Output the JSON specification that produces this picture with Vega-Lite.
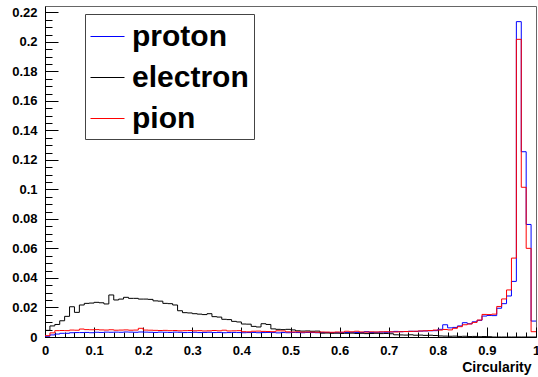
{
  "$schema": "https://vega.github.io/schema/vega-lite/v6.json",
  "width": 491,
  "height": 331,
  "autosize": {"type": "none"},
  "padding": {"left": 45, "top": 6, "right": 2, "bottom": 40},
  "background": "white",
  "config": {
    "view": {"stroke": "#666666", "strokeWidth": 1},
    "font": "Liberation Sans",
    "axis": {"grid": false}
  },
  "data": {
    "values": [
      {"b": 0.00, "proton": 0.0005, "electron": 0.0045, "pion": 0.0009},
      {"b": 0.01, "proton": 0.0014, "electron": 0.0075, "pion": 0.0028},
      {"b": 0.02, "proton": 0.0020, "electron": 0.0085, "pion": 0.0043},
      {"b": 0.03, "proton": 0.0025, "electron": 0.0110, "pion": 0.0044},
      {"b": 0.04, "proton": 0.0025, "electron": 0.0140, "pion": 0.0043},
      {"b": 0.05, "proton": 0.0029, "electron": 0.0205, "pion": 0.0047},
      {"b": 0.06, "proton": 0.0030, "electron": 0.0167, "pion": 0.0046},
      {"b": 0.07, "proton": 0.0030, "electron": 0.0217, "pion": 0.0054},
      {"b": 0.08, "proton": 0.0031, "electron": 0.0228, "pion": 0.0050},
      {"b": 0.09, "proton": 0.0029, "electron": 0.0230, "pion": 0.0049},
      {"b": 0.10, "proton": 0.0032, "electron": 0.0235, "pion": 0.0050},
      {"b": 0.11, "proton": 0.0031, "electron": 0.0232, "pion": 0.0048},
      {"b": 0.12, "proton": 0.0033, "electron": 0.0224, "pion": 0.0047},
      {"b": 0.13, "proton": 0.0032, "electron": 0.0285, "pion": 0.0049},
      {"b": 0.14, "proton": 0.0033, "electron": 0.0251, "pion": 0.0046},
      {"b": 0.15, "proton": 0.0032, "electron": 0.0257, "pion": 0.0047},
      {"b": 0.16, "proton": 0.0034, "electron": 0.0269, "pion": 0.0048},
      {"b": 0.17, "proton": 0.0033, "electron": 0.0262, "pion": 0.0046},
      {"b": 0.18, "proton": 0.0032, "electron": 0.0262, "pion": 0.0047},
      {"b": 0.19, "proton": 0.0034, "electron": 0.0257, "pion": 0.0059},
      {"b": 0.20, "proton": 0.0033, "electron": 0.0257, "pion": 0.0047},
      {"b": 0.21, "proton": 0.0032, "electron": 0.0255, "pion": 0.0046},
      {"b": 0.22, "proton": 0.0031, "electron": 0.0245, "pion": 0.0045},
      {"b": 0.23, "proton": 0.0033, "electron": 0.0243, "pion": 0.0044},
      {"b": 0.24, "proton": 0.0032, "electron": 0.0228, "pion": 0.0045},
      {"b": 0.25, "proton": 0.0031, "electron": 0.0226, "pion": 0.0043},
      {"b": 0.26, "proton": 0.0033, "electron": 0.0217, "pion": 0.0044},
      {"b": 0.27, "proton": 0.0032, "electron": 0.0178, "pion": 0.0042},
      {"b": 0.28, "proton": 0.0030, "electron": 0.0165, "pion": 0.0043},
      {"b": 0.29, "proton": 0.0031, "electron": 0.0163, "pion": 0.0044},
      {"b": 0.30, "proton": 0.0032, "electron": 0.0158, "pion": 0.0042},
      {"b": 0.31, "proton": 0.0030, "electron": 0.0155, "pion": 0.0043},
      {"b": 0.32, "proton": 0.0031, "electron": 0.0152, "pion": 0.0041},
      {"b": 0.33, "proton": 0.0032, "electron": 0.0158, "pion": 0.0042},
      {"b": 0.34, "proton": 0.0030, "electron": 0.0138, "pion": 0.0044},
      {"b": 0.35, "proton": 0.0031, "electron": 0.0135, "pion": 0.0042},
      {"b": 0.36, "proton": 0.0029, "electron": 0.0120, "pion": 0.0046},
      {"b": 0.37, "proton": 0.0030, "electron": 0.0118, "pion": 0.0041},
      {"b": 0.38, "proton": 0.0031, "electron": 0.0106, "pion": 0.0042},
      {"b": 0.39, "proton": 0.0030, "electron": 0.0102, "pion": 0.0043},
      {"b": 0.40, "proton": 0.0029, "electron": 0.0088, "pion": 0.0036},
      {"b": 0.41, "proton": 0.0030, "electron": 0.0087, "pion": 0.0035},
      {"b": 0.42, "proton": 0.0031, "electron": 0.0072, "pion": 0.0039},
      {"b": 0.43, "proton": 0.0029, "electron": 0.0068, "pion": 0.0040},
      {"b": 0.44, "proton": 0.0030, "electron": 0.0090, "pion": 0.0038},
      {"b": 0.45, "proton": 0.0031, "electron": 0.0085, "pion": 0.0037},
      {"b": 0.46, "proton": 0.0030, "electron": 0.0055, "pion": 0.0036},
      {"b": 0.47, "proton": 0.0028, "electron": 0.0052, "pion": 0.0042},
      {"b": 0.48, "proton": 0.0030, "electron": 0.0050, "pion": 0.0041},
      {"b": 0.49, "proton": 0.0029, "electron": 0.0052, "pion": 0.0035},
      {"b": 0.50, "proton": 0.0031, "electron": 0.0048, "pion": 0.0034},
      {"b": 0.51, "proton": 0.0030, "electron": 0.0042, "pion": 0.0035},
      {"b": 0.52, "proton": 0.0029, "electron": 0.0040, "pion": 0.0033},
      {"b": 0.53, "proton": 0.0031, "electron": 0.0041, "pion": 0.0034},
      {"b": 0.54, "proton": 0.0030, "electron": 0.0039, "pion": 0.0033},
      {"b": 0.55, "proton": 0.0029, "electron": 0.0040, "pion": 0.0032},
      {"b": 0.56, "proton": 0.0030, "electron": 0.0026, "pion": 0.0034},
      {"b": 0.57, "proton": 0.0031, "electron": 0.0027, "pion": 0.0033},
      {"b": 0.58, "proton": 0.0030, "electron": 0.0025, "pion": 0.0032},
      {"b": 0.59, "proton": 0.0029, "electron": 0.0026, "pion": 0.0034},
      {"b": 0.60, "proton": 0.0031, "electron": 0.0024, "pion": 0.0033},
      {"b": 0.61, "proton": 0.0030, "electron": 0.0025, "pion": 0.0039},
      {"b": 0.62, "proton": 0.0032, "electron": 0.0026, "pion": 0.0035},
      {"b": 0.63, "proton": 0.0030, "electron": 0.0024, "pion": 0.0039},
      {"b": 0.64, "proton": 0.0031, "electron": 0.0025, "pion": 0.0034},
      {"b": 0.65, "proton": 0.0036, "electron": 0.0023, "pion": 0.0033},
      {"b": 0.66, "proton": 0.0031, "electron": 0.0024, "pion": 0.0035},
      {"b": 0.67, "proton": 0.0032, "electron": 0.0025, "pion": 0.0034},
      {"b": 0.68, "proton": 0.0033, "electron": 0.0023, "pion": 0.0035},
      {"b": 0.69, "proton": 0.0032, "electron": 0.0024, "pion": 0.0036},
      {"b": 0.70, "proton": 0.0034, "electron": 0.0022, "pion": 0.0035},
      {"b": 0.71, "proton": 0.0038, "electron": 0.0015, "pion": 0.0034},
      {"b": 0.72, "proton": 0.0036, "electron": 0.0014, "pion": 0.0036},
      {"b": 0.73, "proton": 0.0037, "electron": 0.0013, "pion": 0.0037},
      {"b": 0.74, "proton": 0.0039, "electron": 0.0015, "pion": 0.0038},
      {"b": 0.75, "proton": 0.0038, "electron": 0.0012, "pion": 0.0039},
      {"b": 0.76, "proton": 0.0040, "electron": 0.0013, "pion": 0.0041},
      {"b": 0.77, "proton": 0.0041, "electron": 0.0011, "pion": 0.0042},
      {"b": 0.78, "proton": 0.0042, "electron": 0.0012, "pion": 0.0044},
      {"b": 0.79, "proton": 0.0043, "electron": 0.0010, "pion": 0.0047},
      {"b": 0.80, "proton": 0.0052, "electron": 0.0007, "pion": 0.0047},
      {"b": 0.81, "proton": 0.0083, "electron": 0.0006, "pion": 0.0051},
      {"b": 0.82, "proton": 0.0062, "electron": 0.0005, "pion": 0.0048},
      {"b": 0.83, "proton": 0.0065, "electron": 0.0006, "pion": 0.0059},
      {"b": 0.84, "proton": 0.0075, "electron": 0.0004, "pion": 0.0070},
      {"b": 0.85, "proton": 0.0097, "electron": 0.0005, "pion": 0.0083},
      {"b": 0.86, "proton": 0.0090, "electron": 0.0003, "pion": 0.0088},
      {"b": 0.87, "proton": 0.0103, "electron": 0.0004, "pion": 0.0099},
      {"b": 0.88, "proton": 0.0113, "electron": 0.0002, "pion": 0.0115},
      {"b": 0.89, "proton": 0.0142, "electron": 0.0003, "pion": 0.0153},
      {"b": 0.90, "proton": 0.0146, "electron": 0.0002, "pion": 0.0152},
      {"b": 0.91, "proton": 0.0145, "electron": 0.0000, "pion": 0.0155},
      {"b": 0.92, "proton": 0.0195, "electron": 0.0000, "pion": 0.0207},
      {"b": 0.93, "proton": 0.0226, "electron": 0.0000, "pion": 0.0258},
      {"b": 0.94, "proton": 0.0278, "electron": 0.0000, "pion": 0.0319},
      {"b": 0.95, "proton": 0.0377, "electron": 0.0000, "pion": 0.0535},
      {"b": 0.96, "proton": 0.2138, "electron": 0.0000, "pion": 0.2018},
      {"b": 0.97, "proton": 0.1256, "electron": 0.0000, "pion": 0.1015},
      {"b": 0.98, "proton": 0.0763, "electron": 0.0000, "pion": 0.0601},
      {"b": 0.99, "proton": 0.0108, "electron": 0.0000, "pion": 0.0036},
      {"b": 1.00, "proton": 0.0108, "electron": 0.0000, "pion": 0.0036}
    ]
  },
  "transform": [
    {"fold": ["proton", "electron", "pion"], "as": ["particle", "value"]}
  ],
  "layer": [
    {
      "mark": {"type": "line", "interpolate": "step-after", "strokeWidth": 1},
      "encoding": {
        "x": {
          "field": "b",
          "type": "quantitative",
          "scale": {"domain": [0, 1], "nice": false, "zero": false},
          "axis": {
            "orient": "bottom",
            "values": [0, 0.1, 0.2, 0.3, 0.4, 0.5, 0.6, 0.7, 0.8, 0.9, 1],
            "format": "~g",
            "labelFont": "Liberation Sans",
            "labelFontWeight": "bold",
            "labelFontSize": 13,
            "labelColor": "black",
            "labelFlush": false,
            "labelOverlap": false,
            "labelPadding": 17,
            "tickSize": -10,
            "tickColor": "black",
            "domainColor": "black",
            "title": "Circularity",
            "titleFont": "Liberation Sans",
            "titleFontWeight": "bold",
            "titleFontSize": 14,
            "titleColor": "black",
            "titleAnchor": "end",
            "titleAlign": "right",
            "titleBaseline": "alphabetic",
            "titleX": 486,
            "titleY": 34
          }
        },
        "y": {
          "field": "value",
          "type": "quantitative",
          "scale": {"domain": [0, 0.2244], "nice": false},
          "axis": {
            "orient": "left",
            "values": [0, 0.02, 0.04, 0.06, 0.08, 0.1, 0.12, 0.14, 0.16, 0.18, 0.2, 0.22],
            "format": "~g",
            "labelFont": "Liberation Sans",
            "labelFontWeight": "bold",
            "labelFontSize": 13,
            "labelColor": "black",
            "labelFlush": false,
            "labelOverlap": false,
            "labelPadding": 21,
            "tickSize": -13,
            "tickColor": "black",
            "domainColor": "black",
            "title": null
          }
        },
        "color": {
          "field": "particle",
          "type": "nominal",
          "scale": {"domain": ["proton", "electron", "pion"], "range": ["#0000ff", "#000000", "#ff0000"]},
          "legend": {
            "orient": "none",
            "legendX": 40,
            "legendY": 8,
            "direction": "vertical",
            "title": null,
            "symbolType": "stroke",
            "symbolSize": 1156,
            "symbolStrokeWidth": 1,
            "labelFont": "Liberation Sans",
            "labelFontWeight": "bold",
            "labelFontSize": 30,
            "labelColor": "black",
            "labelOffset": 7,
            "labelLimit": 400,
            "padding": 5,
            "rowPadding": 8,
            "strokeColor": "#444444",
            "fillColor": "white",
            "cornerRadius": 0
          }
        }
      }
    },
    {
      "mark": {"type": "line", "opacity": 0},
      "encoding": {
        "x": {
          "field": "b",
          "type": "quantitative",
          "axis": {
            "orient": "bottom",
            "values": [0.02, 0.04, 0.06, 0.08, 0.12, 0.14, 0.16, 0.18, 0.22, 0.24, 0.26, 0.28, 0.32, 0.34, 0.36, 0.38, 0.42, 0.44, 0.46, 0.48, 0.52, 0.54, 0.56, 0.58, 0.62, 0.64, 0.66, 0.68, 0.72, 0.74, 0.76, 0.78, 0.82, 0.84, 0.86, 0.88, 0.92, 0.94, 0.96, 0.98],
            "labels": false,
            "domain": false,
            "tickSize": -5,
            "tickColor": "black",
            "title": null
          }
        },
        "y": {
          "field": "value",
          "type": "quantitative",
          "axis": {
            "orient": "left",
            "values": [0.005, 0.01, 0.015, 0.025, 0.03, 0.035, 0.045, 0.05, 0.055, 0.065, 0.07, 0.075, 0.085, 0.09, 0.095, 0.105, 0.11, 0.115, 0.125, 0.13, 0.135, 0.145, 0.15, 0.155, 0.165, 0.17, 0.175, 0.185, 0.19, 0.195, 0.205, 0.21, 0.215],
            "labels": false,
            "domain": false,
            "tickSize": -7,
            "tickColor": "black",
            "title": null
          }
        }
      }
    }
  ],
  "resolve": {"axis": {"x": "independent", "y": "independent"}}
}
